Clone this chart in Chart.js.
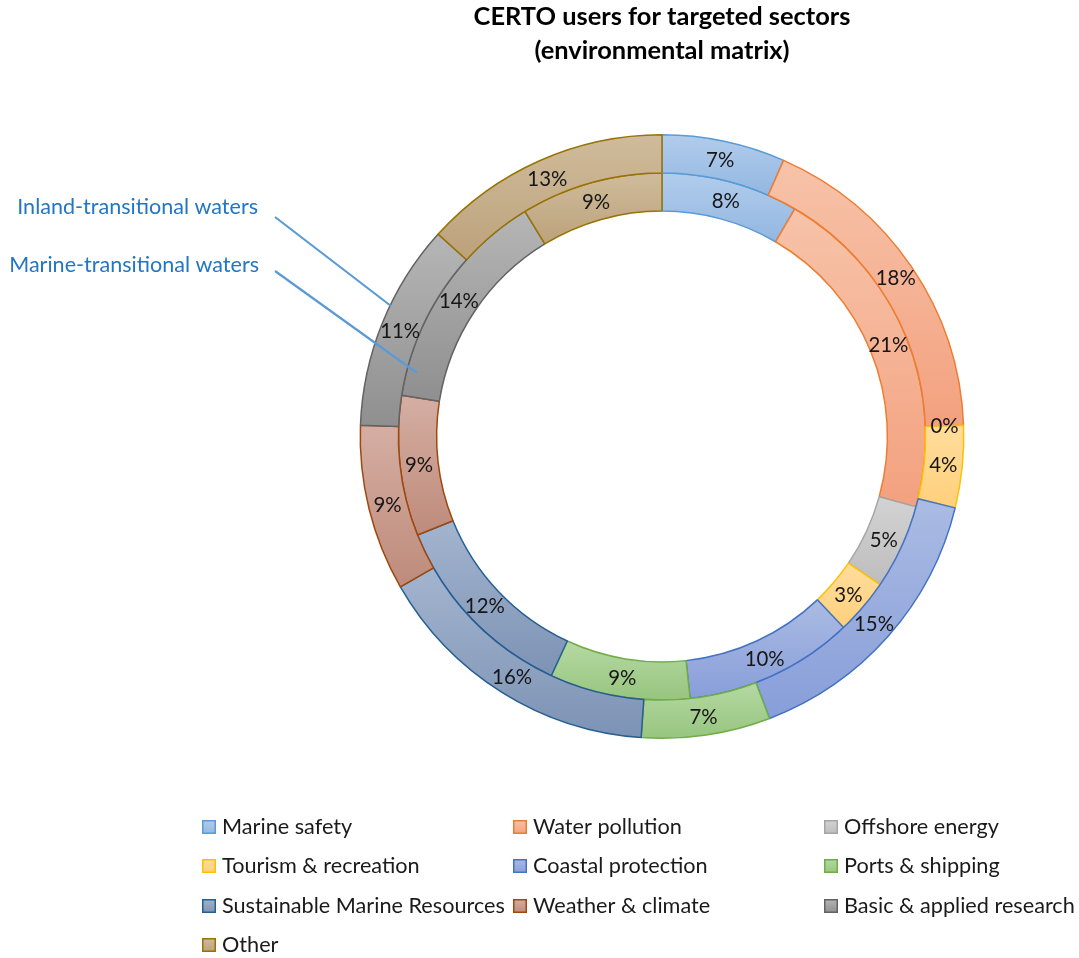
<!DOCTYPE html>
<html>
<head>
<meta charset="utf-8">
<script src="https://cdn.jsdelivr.net/npm/chart.js@4/dist/chart.umd.min.js"></script>
<style>
html,body{margin:0;padding:0;background:#ffffff;}
#wrap{width:1079px;height:958px;position:relative;}
</style>
</head>
<body>
<div id="wrap"><canvas id="c"></canvas></div>
<script>
// ---- data (shares in %; labels show rounded values) ----
const categories = ['Marine safety','Water pollution','Offshore energy','Tourism & recreation','Coastal protection','Ports & shipping','Sustainable Marine Resources','Weather & climate','Basic & applied research','Other'];
const inlandValues = [6.6,17.8,0,4.4,15.4,6.9,15.6,8.9,11.1,13.3];   // outer ring
const marineValues = [8.4,20.9,5.2,3.4,10.4,8.6,12.0,8.6,13.8,8.7];  // inner ring
const seriesNames = ['Inland-transitional waters','Marine-transitional waters'];
const titleLines = ['CERTO users for targeted sectors','(environmental matrix)'];

// ---- styles ----
const fillTop    = ['#B1CDEC','#F7C3A9','#D3D3D3','#FFDD9C','#AABBE3','#B5D9A3','#A3B4CE','#D5AEA3','#B6B6B6','#CFBB9B'];
const fillBottom = ['#93B6E1','#F3A17F','#BDBDBD','#FFD07C','#889ED9','#97C57F','#7D93B5','#BE8B7B','#8F8F8F','#BCA27B'];
const borderColors = ['#5B9BD5','#ED7D31','#A5A5A5','#FFC000','#4472C4','#70AD47','#255E91','#9E480E','#636363','#997300'];
const FONT = 'Lato, "Open Sans", "Liberation Sans", sans-serif';

function fitSize(ctx, text, weight, target){
  ctx.save();
  ctx.font = weight + ' 100px ' + FONT;
  const w = ctx.measureText(text).width;
  ctx.restore();
  return 100 * target / w;
}

function arcBounds(p){
  let ymin = Infinity, ymax = -Infinity;
  const n = 60;
  for (let i = 0; i <= n; i++){
    const a = p.startAngle + (p.endAngle - p.startAngle) * i / n;
    for (const r of [p.innerRadius, p.outerRadius]){
      const y = p.y + r * Math.sin(a);
      ymin = Math.min(ymin, y); ymax = Math.max(ymax, y);
    }
  }
  return [ymin, ymax];
}

const gradientPlugin = {
  id: 'sliceGradient',
  beforeDatasetsDraw(chart){
    const ctx = chart.ctx;
    chart.data.datasets.forEach((ds, di) => {
      const meta = chart.getDatasetMeta(di);
      meta.data.forEach((arc, i) => {
        const p = arc.getProps(['x','y','startAngle','endAngle','innerRadius','outerRadius'], true);
        const [y0, y1] = arcBounds(p);
        const g = ctx.createLinearGradient(0, y0, 0, Math.max(y1, y0 + 1));
        g.addColorStop(0, fillTop[i]);
        g.addColorStop(1, fillBottom[i]);
        arc.options = Object.assign({}, arc.options, {backgroundColor: g});
      });
    });
  }
};

const labelPlugin = {
  id: 'sliceLabels',
  afterDatasetsDraw(chart){
    const ctx = chart.ctx;
    const size = fitSize(ctx, '18%', 'normal', 40);
    ctx.save();
    ctx.font = 'normal ' + size + 'px ' + FONT;
    ctx.fillStyle = '#161616';
    ctx.textAlign = 'center';
    ctx.textBaseline = 'middle';
    chart.data.datasets.forEach((ds, di) => {
      const meta = chart.getDatasetMeta(di);
      meta.data.forEach((arc, i) => {
        const p = arc.getProps(['x','y','startAngle','endAngle','innerRadius','outerRadius'], true);
        const a = (p.startAngle + p.endAngle) / 2;
        const r = (p.innerRadius + p.outerRadius) / 2;
        ctx.fillText(Math.round(ds.data[i]) + '%', p.x + r * Math.cos(a), p.y + r * Math.sin(a) + 1);
      });
    });
    ctx.restore();
  }
};

const decorPlugin = {
  id: 'decor',
  afterDraw(chart){
    const ctx = chart.ctx;
    ctx.save();
    // title
    const ts = fitSize(ctx, titleLines[0], 'bold', 377);
    ctx.font = 'bold ' + ts + 'px ' + FONT;
    ctx.fillStyle = '#000000';
    ctx.textAlign = 'center';
    ctx.textBaseline = 'alphabetic';
    ctx.fillText(titleLines[0], 662, 25);
    ctx.fillText(titleLines[1], 662, 58.5);

    // series annotations
    const as = fitSize(ctx, seriesNames[1], 'normal', 250);
    ctx.font = 'normal ' + as + 'px ' + FONT;
    ctx.fillStyle = '#2276C4';
    ctx.textAlign = 'right';
    ctx.textBaseline = 'middle';
    ctx.fillText(seriesNames[0], 258, 207);
    ctx.fillText(seriesNames[1], 259, 265);
    ctx.strokeStyle = '#5B9BD5';
    ctx.lineWidth = 2.2;
    ctx.beginPath();
    ctx.moveTo(275, 217); ctx.lineTo(391, 306);
    ctx.moveTo(275, 271); ctx.lineTo(417, 373);
    ctx.stroke();

    // legend
    const ls = fitSize(ctx, categories[6], 'normal', 283);
    ctx.font = 'normal ' + ls + 'px ' + FONT;
    ctx.textAlign = 'left';
    ctx.textBaseline = 'middle';
    const colX = [202, 513, 824];
    const rowY = [827, 866, 906, 945];
    categories.forEach((name, i) => {
      const cx = colX[i % 3], cy = rowY[Math.floor(i / 3)];
      const g = ctx.createLinearGradient(0, cy - 7, 0, cy + 7);
      g.addColorStop(0, fillTop[i]); g.addColorStop(1, fillBottom[i]);
      ctx.fillStyle = g;
      ctx.fillRect(cx, cy - 7, 14, 14);
      ctx.strokeStyle = borderColors[i];
      ctx.lineWidth = 1.5;
      ctx.strokeRect(cx + 0.75, cy - 6.25, 12.5, 12.5);
      ctx.fillStyle = '#1a1a1a';
      ctx.fillText(name, cx + 20, cy);
    });
    ctx.restore();
  }
};

new Chart(document.getElementById('c'), {
  type: 'doughnut',
  data: {
    labels: categories,
    datasets: [
      { label: seriesNames[0], data: inlandValues, backgroundColor: fillTop, borderColor: borderColors, borderWidth: 1.5 },
      { label: seriesNames[1], data: marineValues, backgroundColor: fillTop, borderColor: borderColors, borderWidth: 1.5 }
    ]
  },
  options: {
    responsive: true,
    maintainAspectRatio: false,
    devicePixelRatio: 1,
    animation: false,
    events: [],
    cutout: '74.7%',
    layout: { padding: { left: 359.5, right: 114.5, top: 134, bottom: 219 } },
    plugins: { legend: { display: false }, tooltip: { enabled: false }, title: { display: false } }
  },
  plugins: [gradientPlugin, labelPlugin, decorPlugin]
});
</script>
</body>
</html>
